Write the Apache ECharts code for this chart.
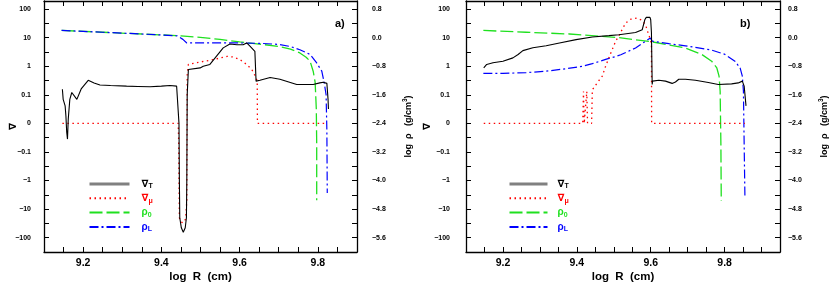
<!DOCTYPE html>
<html><head><meta charset="utf-8">
<script src="https://cdn.jsdelivr.net/npm/echarts@6/dist/echarts.min.js"></script>
<style>html,body{margin:0;padding:0;background:#fff}#c{width:830px;height:288px}</style>
</head><body><div id="c"></div>
<script>
// ---------- Panel a ----------
const aT_x = [9.147,9.149,9.154,9.156,9.158,9.160,9.162,9.166,9.171,9.175,9.184,9.195,9.213,9.228,9.243,9.27,9.311,9.34,9.371,9.40,9.422,9.439,9.443,9.445,9.446,9.447,9.451,9.456,9.461,9.464,9.465,9.466,9.469,9.499,9.507,9.524,9.541,9.558,9.575,9.593,9.609,9.618,9.627,9.639,9.642,9.652,9.678,9.703,9.746,9.788,9.805,9.814,9.823,9.826,9.827];
const aT_v = [0.155,0.084,0.061,0.026,-0.03,-0.055,0.015,0.084,0.12,0.105,0.084,0.16,0.32,0.26,0.22,0.21,0.20,0.195,0.19,0.20,0.21,0.20,0.19,0.0,-1,-20,-45,-64,-45,-20,-1,0.1,0.77,0.87,1.0,1.15,2.24,4.37,6.0,5.6,5.6,6.5,4.9,3.3,0.30,0.32,0.40,0.35,0.23,0.23,0.26,0.275,0.25,0.084,0.05];
const aM_x = [9.147,9.443,9.444,9.446,9.450,9.456,9.462,9.465,9.466,9.469,9.50,9.534,9.551,9.568,9.584,9.601,9.618,9.631,9.640,9.645,9.6455,9.823];
const aM_v = [0,0,-0.05,-20,-28,-30,-22,-5,0.5,1.15,1.4,1.7,1.95,2.2,2.1,1.7,1.15,0.77,0.45,0.3,0,0];
const aD_x = [9.145,9.25,9.35,9.45,9.506,9.55,9.60,9.65,9.70,9.73,9.754,9.77,9.78,9.788,9.793,9.796,9.797,9.797];
const aD_v = [0.20,0.15,0.10,0.05,0.0,-0.05,-0.12,-0.18,-0.25,-0.32,-0.43,-0.55,-0.66,-0.94,-1.25,-2.0,-3.0,-4.55];
const aL_x = [9.145,9.25,9.35,9.44,9.455,9.465,9.50,9.55,9.60,9.65,9.70,9.73,9.754,9.78,9.797,9.81,9.816,9.821,9.823,9.824];
const aL_v = [0.20,0.15,0.10,0.05,-0.05,-0.15,-0.15,-0.15,-0.15,-0.16,-0.19,-0.25,-0.34,-0.47,-0.71,-0.94,-1.25,-1.6,-2.6,-4.35];

// ---------- Panel b ----------
const bT_x = [9.148,9.156,9.173,9.200,9.227,9.241,9.254,9.281,9.317,9.353,9.398,9.442,9.487,9.514,9.559,9.577,9.584,9.588,9.598,9.600,9.602,9.604,9.605,9.622,9.640,9.658,9.667,9.676,9.694,9.721,9.756,9.783,9.819,9.837,9.848,9.853,9.858];
const bT_v = [0.87,1.15,1.32,1.49,1.95,2.56,3.5,4.4,5.2,6.5,8.5,10.5,11.7,12.6,15,18.8,42,51,51,42,14.8,0.23,0.30,0.32,0.30,0.25,0.28,0.35,0.35,0.32,0.27,0.23,0.24,0.26,0.30,0.2,0.061];
const bM_x = [9.148,9.416,9.418,9.420,9.425,9.427,9.429,9.440,9.442,9.447,9.456,9.469,9.478,9.492,9.505,9.514,9.532,9.546,9.563,9.577,9.586,9.593,9.600,9.602,9.6025,9.855];
const bM_v = [0,0,0.13,0,0,0.13,0,0,0.15,0.155,0.27,0.45,1.0,2.9,7.4,11.7,32,44,48,40,28,14.5,8,5,0,0];
const bD_x = [9.147,9.263,9.38,9.514,9.604,9.694,9.738,9.765,9.779,9.785,9.788,9.790,9.791];
const bD_v = [0.20,0.15,0.10,0.0,-0.12,-0.29,-0.47,-0.66,-0.85,-1.08,-1.5,-3.0,-4.57];
const bL_x = [9.147,9.2,9.263,9.317,9.371,9.416,9.442,9.478,9.505,9.519,9.559,9.586,9.599,9.604,9.649,9.694,9.765,9.801,9.828,9.842,9.848,9.851,9.853,9.855];
const bL_v = [-1.0,-1.0,-0.98,-0.94,-0.87,-0.8,-0.73,-0.61,-0.53,-0.48,-0.29,-0.1,-0.01,-0.1,-0.17,-0.23,-0.35,-0.47,-0.66,-0.85,-1.08,-1.5,-3.0,-4.43];

// tick labels
const gradTickLabels = ['\u2212100','\u221210','\u22121','\u22120.1','0','0.1','1','10','100']; // p = -4..4
const xTickLabels = ['9.2','9.4','9.6','9.8'];
const legendNames = ['\u2207T','\u2207\u03bc','\u03c10','\u03c1L'];

function symlog(v){ const a=Math.abs(v); const p = a>=0.1 ? Math.log10(a)+2 : a*10; return v<0?-p:p; }
const pairs = (xs,vs,f)=>xs.map((x,i)=>[x, f?f(vs[i]):vs[i]]);

const FONT = '"Liberation Sans", "DejaVu Sans", sans-serif';
const frame = {show:true, onZero:false, lineStyle:{color:'#000', width:1.3}};
const tick = {show:true, inside:true, length:5, lineStyle:{color:'#000', width:1}};

function xAxes(grid, max, lblMargin){
  return [
    {type:'value', gridIndex:grid, position:'bottom', min:9.1, max:max, interval:0.05,
     axisLine:frame, axisTick:tick, splitLine:{show:false},
     axisLabel:{margin:lblMargin, color:'#000', fontFamily:FONT, fontWeight:'bold', fontSize:10.5,
       formatter:v=>{ const k=Math.round(v*5); if(Math.abs(v*5-k)>1e-6) return ''; const s=(k/5).toFixed(1); return xTickLabels.indexOf(s)>=0?s:''; }},
     name:'log  R  (cm)', nameLocation:'middle', nameGap:19, nameMoveOverlap:false,
     nameTextStyle:{color:'#000', fontFamily:FONT, fontWeight:'bold', fontSize:11.5}},
    {type:'value', gridIndex:grid, position:'top', min:9.1, max:max, interval:0.05,
     axisLine:frame, axisTick:tick, splitLine:{show:false}, axisLabel:{show:false}}
  ];
}
function yAxes(grid, lm, rm, lGap, rGap){
  return [
    {type:'value', gridIndex:grid, position:'left', min:-4.5, max:4.28, interval:0.5,
     axisLine:frame, axisTick:tick, splitLine:{show:false},
     axisLabel:{margin:lm, color:'#000', fontFamily:FONT, fontWeight:'bold', fontSize:7,
       formatter:v=>{ const k=Math.round(v); if(Math.abs(v-k)>1e-6) return ''; return gradTickLabels[k+4]||''; }},
     name:'\u2207', nameLocation:'middle', nameRotate:90, nameGap:lGap, nameMoveOverlap:false,
     nameTextStyle:{color:'#000', fontFamily:FONT, fontWeight:'bold', fontSize:10}},
    {type:'value', gridIndex:grid, position:'right', min:-6.0, max:1.024, interval:0.4,
     axisLine:frame, axisTick:tick, splitLine:{show:false},
     axisLabel:{margin:rm, color:'#000', fontFamily:FONT, fontWeight:'bold', fontSize:7,
       formatter:v=>{ const q=(v+2.4)/0.8; if(Math.abs(q-Math.round(q))>1e-6) return ''; const s=Math.abs(v).toFixed(1); return (v<-1e-9?'\u2212':'')+s; }},
     name:'{a|log  \u03c1   (g/cm}{s|3}{a|)}', nameLocation:'middle', nameRotate:90, nameGap:rGap, nameMoveOverlap:false,
     nameTextStyle:{color:'#000', fontFamily:FONT, fontWeight:'bold', fontSize:9,
       rich:{a:{fontFamily:FONT, fontWeight:'bold', fontSize:9, color:'#000'}, s:{fontFamily:FONT, fontWeight:'bold', fontSize:6.5, color:'#000', padding:[0,0,6,0]}}}}
  ];
}

const styles = {
  '\u2207T': {color:'#000', width:1.1, type:'solid'},
  '\u2207\u03bc': {color:'#ff0000', width:1.3, type:[1.5,3.5]},
  '\u03c10': {color:'#1fe01f', width:1.3, type:[13,4]},
  '\u03c1L': {color:'#0000ff', width:1.2, type:[9,3,2,3]}
};
function series(xi, yL, yR, T, M, D, L){
  const mk = (name, data, yi)=>({type:'line', name, xAxisIndex:xi, yAxisIndex:yi, data, symbol:'none', smooth:false,
      lineStyle:styles[name], itemStyle:{color:styles[name].color}, animation:false, z: name==='\u2207T'?3:2});
  return [mk('\u03c10', D, yR), mk('\u03c1L', L, yR), mk('\u2207\u03bc', M, yL), mk('\u2207T', T, yL)];
}
const rich = {
  k:{color:'#000', fontFamily:FONT, fontWeight:'bold', fontSize:10, lineHeight:10},
  ks:{color:'#000', fontFamily:FONT, fontWeight:'bold', fontSize:7, lineHeight:10, padding:[5,0,0,0]},
  r:{color:'#ff0000', fontFamily:FONT, fontWeight:'bold', fontSize:10, lineHeight:10},
  rs:{color:'#ff0000', fontFamily:FONT, fontWeight:'bold', fontSize:7, lineHeight:10, padding:[5,0,0,0]},
  g:{color:'#1fe01f', fontFamily:FONT, fontWeight:'bold', fontSize:10, lineHeight:10},
  gs:{color:'#1fe01f', fontFamily:FONT, fontWeight:'bold', fontSize:7, lineHeight:10, padding:[5,0,0,0]},
  b:{color:'#0000ff', fontFamily:FONT, fontWeight:'bold', fontSize:10, lineHeight:10},
  bs:{color:'#0000ff', fontFamily:FONT, fontWeight:'bold', fontSize:7, lineHeight:10, padding:[5,0,0,0]}
};
const fmtMap = {'\u2207T':'{k|\u2207}{ks|T}', '\u2207\u03bc':'{r|\u2207}{rs|\u03bc}', '\u03c10':'{g|\u03c1}{gs|0}', '\u03c1L':'{b|\u03c1}{bs|L}'};
function legend(left, top, w, pad){
  return {orient:'vertical', left, top, itemWidth:w, itemHeight:10, itemGap:2.3, selectedMode:false,
    itemStyle:{opacity:0, borderWidth:0},
    data: legendNames.map(n=> n==='\u2207T' ? {name:n, lineStyle:{color:'#808080', width:3}} : {name:n}),
    formatter:n=>fmtMap[n], textStyle:{padding:[0,0,0,pad], rich}};
}

const option = {
  animation:false,
  backgroundColor:'#fff',
  grid:[{left:44, top:1, width:313, height:254, containLabel:false},
        {left:466, top:1, width:316, height:254, containLabel:false}],
  xAxis:[...xAxes(0, 9.9, 6), ...xAxes(1, 9.95, 6)],
  yAxis:[...yAxes(0, 13, 15, 26, 45), ...yAxes(1, 16, 8, 34, 38)],
  legend:[legend(83, 173, 40, 7), legend(503, 173, 38, 5)],
  series:[
    ...series(0, 0, 1, pairs(aT_x,aT_v,symlog), pairs(aM_x,aM_v,symlog), pairs(aD_x,aD_v), pairs(aL_x,aL_v)),
    ...series(2, 2, 3, pairs(bT_x,bT_v,symlog), pairs(bM_x,bM_v,symlog), pairs(bD_x,bD_v), pairs(bL_x,bL_v))
  ],
  graphic:[
    {type:'text', left:335, top:18, style:{text:'a)', fill:'#000', font:'bold 11px '+FONT}},
    {type:'text', left:740, top:18, style:{text:'b)', fill:'#000', font:'bold 11px '+FONT}}
  ]
};
const chart = echarts.init(document.getElementById('c'), null, {renderer:'canvas'});
chart.setOption(option);
</script></body></html>
